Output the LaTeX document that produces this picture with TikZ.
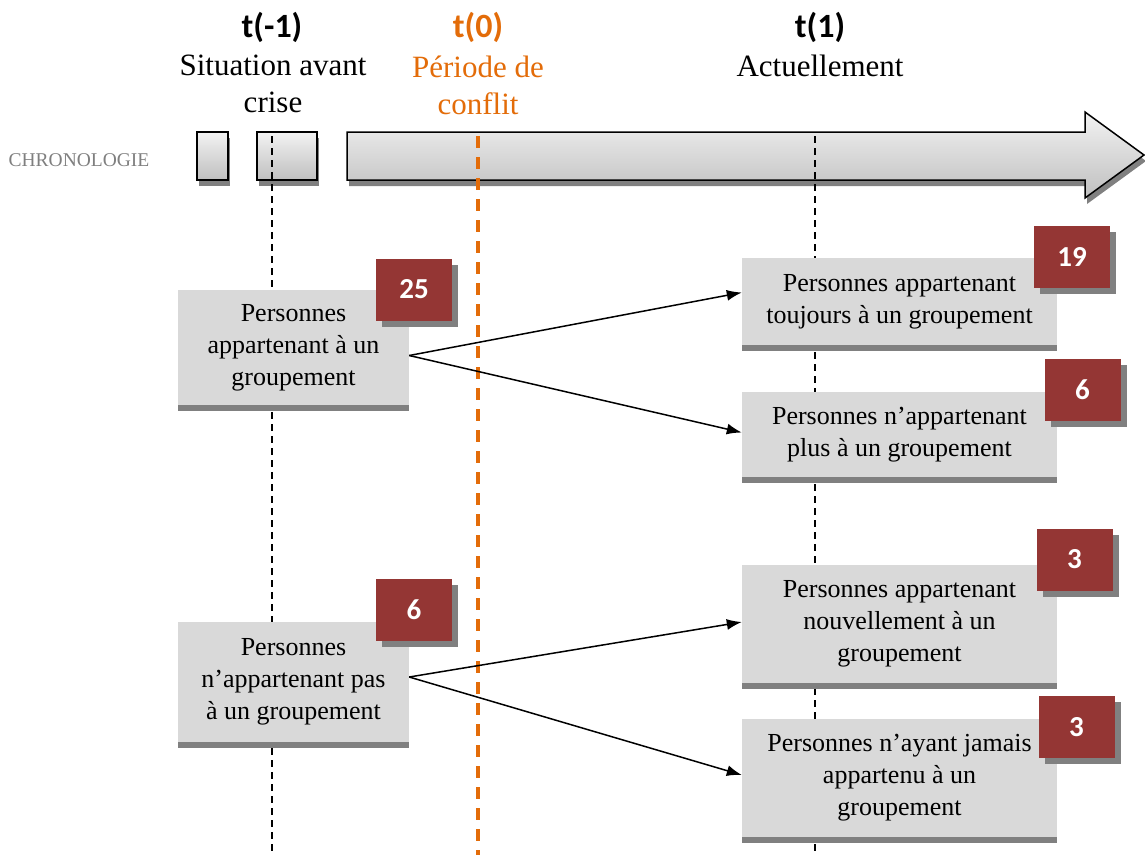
\documentclass[tikz,border=0pt]{standalone}
\usepackage{fontspec}
\setmainfont{Liberation Serif}
\newfontfamily\numfont{Carlito}
\usetikzlibrary{arrows.meta,shadows,patterns}
\definecolor{boxgray}{HTML}{D9D9D9}
\definecolor{cntred}{HTML}{943634}
\definecolor{conflict}{HTML}{E36C09}
\definecolor{chrono}{HTML}{7F7F7F}
\tikzset{
  shd/.style   ={general shadow={shadow xshift=#1, shadow yshift=-6pt, fill=black!50}},
  grp/.style   ={fill=boxgray, align=center, inner sep=0pt, shd=0pt,
                 font=\fontsize{26}{32}\selectfont},
  cnt/.style   ={fill=cntred, text=white, inner sep=0pt, shd=6pt,
                 minimum width=76pt, minimum height=62pt,
                 font=\numfont\bfseries\fontsize{29}{34}\selectfont},
  chr/.style   ={draw=black, line width=1.5pt, top color=black!5, bottom color=black!25,
                 shd=2pt},
  tlab/.style  ={font=\numfont\bfseries\fontsize{34}{40}\selectfont, inner sep=0pt},
  tsub/.style  ={font=\fontsize{31}{37}\selectfont, align=center, inner sep=0pt},
  guide/.style ={draw=black, line width=1.5pt, dash pattern=on 7pt off 5pt},
  fl/.style    ={draw=black, line width=1.5pt, -{Latex[length=15pt,width=11pt]}},
}

\begin{document}
\begin{tikzpicture}[x=1pt,y=-1pt]
  \useasboundingbox (0,0) rectangle (1145,855);
  % timeline
  \node[font=\fontsize{19.5}{24}\selectfont, text=chrono] (chronolbl) at (79,160) {CHRONOLOGIE};
  \node[chr, minimum width=31pt, minimum height=48pt] (c1) at (212.5,156) {};
  \node[chr, minimum width=60pt, minimum height=48pt] (c2) at (287,156) {};
  \path[chr] (347,132) -- (1085,132) -- (1085,112) -- (1144,155)
             -- (1085,198) -- (1085,180) -- (347,180) -- cycle;

  \node[tlab] (tpre) at (272,27) {t(-1)};
  \node[tsub] (spre) at (273,84) {Situation avant\\crise};
  \node[tlab, text=conflict] (tconf) at (478,27) {t(0)};
  \node[tsub, text=conflict] (sconf) at (478,85) {Période de\\conflit};
  \node[tlab] (tnow) at (820,27) {t(1)};
  \node[tsub] (snow) at (820,66) {Actuellement};

  % guides
  \coordinate (g1) at (272,136);  \coordinate (g1b) at (272,855);
  \coordinate (g2) at (478,136);  \coordinate (g2b) at (478,855);
  \coordinate (g3) at (815,136);  \coordinate (g3b) at (815,855);
  \draw[guide] (g1) -- (g1b);
  \draw[guide] (g3) -- (g3b);
  \draw[guide, draw=conflict, line width=3.5pt, dash pattern=on 12pt off 9pt] (g2) -- (g2b);

  % groups
  \node[grp, minimum width=231pt, minimum height=115pt] (avant) at (293.5,347.5)
       {Personnes\\appartenant à un\\groupement};
  \node[grp, minimum width=231pt, minimum height=120pt] (hors) at (293.5,682)
       {Personnes\\n’appartenant pas\\à un groupement};
  \node[grp, minimum width=315pt, minimum height=87pt] (toujours) at (899.5,301.5)
       {Personnes appartenant\\toujours à un groupement};
  \node[grp, minimum width=315pt, minimum height=85pt] (plus) at (899.5,434.5)
       {Personnes n’appartenant\\plus à un groupement};
  \node[grp, minimum width=315pt, minimum height=118pt] (nouv) at (899.5,624)
       {Personnes appartenant\\nouvellement à un\\groupement};
  \node[grp, minimum width=315pt, minimum height=118pt] (jamais) at (899.5,778)
       {Personnes n’ayant jamais\\appartenu à un\\groupement};

  % counts
  \node[cnt] (n25) at (414,289.5) {25};
  \node[cnt] (n6a) at (414,609.5) {6};
  \node[cnt] (n19) at (1072,257) {19};
  \node[cnt] (n6b) at (1082.5,389.5) {6};
  \node[cnt] (n3a) at (1074.5,559.5) {3};
  \node[cnt] (n3b) at (1076.5,727) {3};

  \draw[fl] ([yshift=-8pt]avant.east) -- ([yshift=9pt]toujours.west);
  \draw[fl] ([yshift=-8pt]avant.east) -- ([yshift=2pt]plus.west);
  \draw[fl] ([yshift=5pt]hors.east) -- ([yshift=2pt]nouv.west);
  \draw[fl] ([yshift=5pt]hors.east) -- ([yshift=3pt]jamais.west);
\end{tikzpicture}
\end{document}
